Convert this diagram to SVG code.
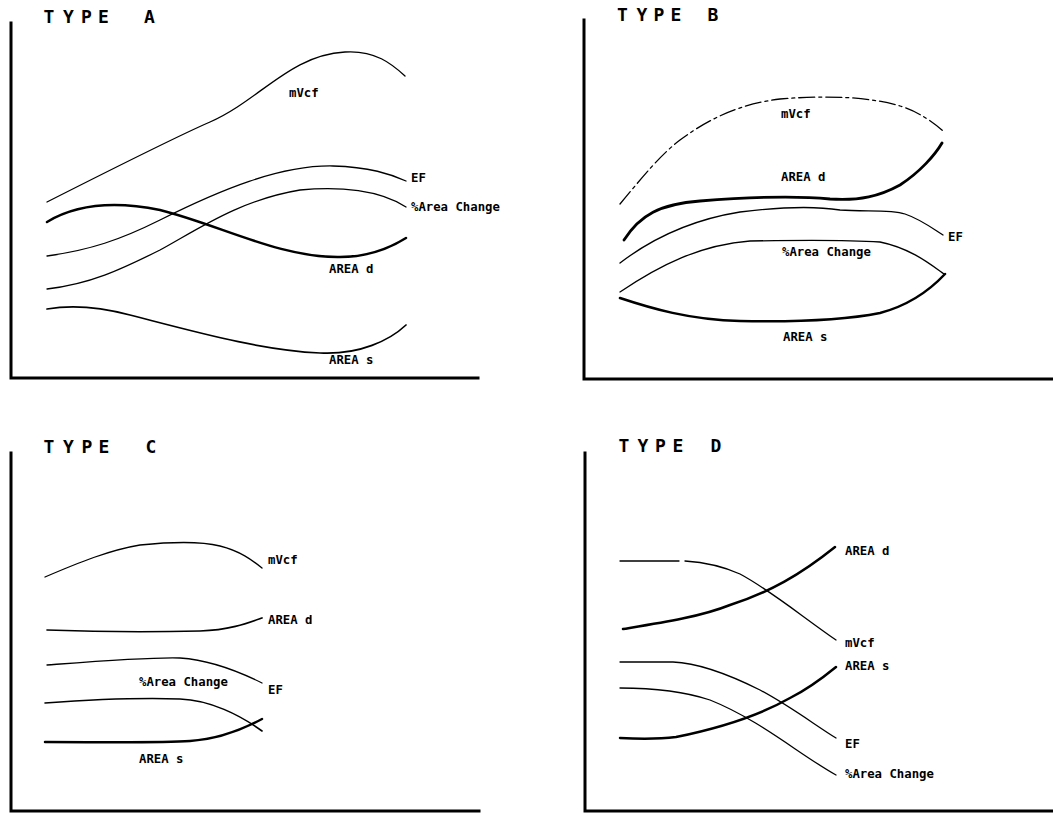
<svg xmlns="http://www.w3.org/2000/svg" width="1053" height="814" viewBox="0 0 1053 814">
<style>
.axis{stroke:#000;stroke-width:3;fill:none;stroke-linecap:square}
.thin{stroke:#000;stroke-width:1.3;fill:none;stroke-linecap:round}
.thick{stroke:#000;stroke-width:2.5;fill:none;stroke-linecap:round}
.dash{stroke-dasharray:16 4 3 4}
.title{font-family:"DejaVu Sans Mono","Liberation Mono",monospace;font-size:18px;font-weight:bold;fill:#000;text-anchor:middle}
.lbl{font-family:"DejaVu Sans Mono","Liberation Mono",monospace;font-size:12.3px;font-weight:bold;fill:#000}
</style>
<rect width="1053" height="814" fill="#fff"/>

<g id="panel-a">
  <text class="title" x="49 68.5 86.5 103.5 149.5" y="23">TYPEA</text>
  <path class="axis" d="M11,23 V378 H478"/>
  <g id="a-mvcf"><path class="thin" d="M47,202 C120,165 180,135 210,122 C260,100 290,55 345,52 C375,50 392,64 405,76"/><text class="lbl" x="289" y="97">mVcf</text></g>
  <g id="a-ef"><path class="thin" d="M47,256 C90,250 120,240 160,220 C220,190 280,165 333,166 C370,167 390,174 406,181"/><text class="lbl" x="411" y="182">EF</text></g>
  <g id="a-area-change"><path class="thin" d="M47,289 C90,284 120,270 160,250 C200,228 240,200 300,190 C340,186 380,190 406,207"/><text class="lbl" x="411" y="211">%Area Change</text></g>
  <g id="a-area-d"><path class="thick" d="M47,222 C80,202 120,202 160,210 C220,225 280,258 340,257 C370,257 390,248 406,238"/><text class="lbl" x="329" y="273">AREA d</text></g>
  <g id="a-area-s"><path class="thin" style="stroke-width:1.7" d="M47,309 C70,305 100,307 130,315 C200,333 260,350 320,353 C360,355 390,340 406,325"/><text class="lbl" x="329" y="364">AREA s</text></g>
</g>

<g id="panel-b">
  <text class="title" x="622.5 642 659 676 713" y="21">TYPEB</text>
  <path class="axis" d="M584,20 V379 H1053"/>
  <g id="b-mvcf"><path class="thin dash" d="M620,204 C640,180 660,155 680,140 C710,118 740,104 780,99 C830,95 870,97 900,106 C920,112 935,124 943,131"/><text class="lbl" x="781" y="118">mVcf</text></g>
  <g id="b-area-d"><path class="thick" style="stroke-width:2.8" d="M624,240 C640,215 660,204 700,201 C750,197 800,196 830,199 C860,201 880,196 900,185 C920,172 935,155 942,143"/><text class="lbl" x="781" y="181">AREA d</text></g>
  <g id="b-ef"><path class="thin" d="M620,263 C650,240 690,220 740,212 C780,207 815,206 840,210 C865,212 890,209 905,214 C920,219 932,228 943,235"/><text class="lbl" x="948" y="241">EF</text></g>
  <g id="b-area-change"><path class="thin" d="M620,292 C660,265 700,245 750,241 C800,240 850,240 880,242 C910,248 930,264 944,274"/><text class="lbl" x="782" y="256">%Area Change</text></g>
  <g id="b-area-s"><path class="thick" d="M620,298 C650,308 690,320 740,321 C790,322 840,321 880,313 C910,305 930,290 945,274"/><text class="lbl" x="783" y="341">AREA s</text></g>
</g>

<g id="panel-c">
  <text class="title" x="49 68.5 87 104 151" y="453">TYPEC</text>
  <path class="axis" d="M11,453 V811 H479"/>
  <g id="c-mvcf"><path class="thin" d="M45,577 C80,562 110,550 140,545 C170,542 200,541 220,546 C240,551 252,560 262,568"/><text class="lbl" x="268" y="564">mVcf</text></g>
  <g id="c-area-d"><path class="thin" style="stroke-width:1.7" d="M47,630 C100,632 160,632 200,631 C230,630 248,623 262,618"/><text class="lbl" x="268" y="624">AREA d</text></g>
  <g id="c-ef"><path class="thin" d="M47,665 C100,661 150,657 180,658 C210,660 240,672 262,683"/><text class="lbl" x="268" y="694">EF</text></g>
  <g id="c-area-change"><path class="thin" style="stroke-width:1.6" d="M45,703 C100,699 150,698 180,699 C210,700 240,715 262,731"/><text class="lbl" x="139" y="686">%Area Change</text></g>
  <g id="c-area-s"><path class="thick" d="M45,742 C100,742 160,743 190,741 C220,739 245,728 262,719"/><text class="lbl" x="139" y="763">AREA s</text></g>
</g>

<g id="panel-d">
  <text class="title" x="624 643 660.5 678 716" y="452">TYPED</text>
  <path class="axis" d="M585,453 V811 H1053"/>
  <g id="d-mvcf"><path class="thin" d="M620,561 L679,561 M685,561 C700,562 720,565 740,574 C770,590 800,615 836,640"/><text class="lbl" x="845" y="647">mVcf</text></g>
  <g id="d-area-d"><path class="thick" d="M623,629 C660,623 700,617 730,605 C770,592 800,575 835,547"/><text class="lbl" x="845" y="555">AREA d</text></g>
  <g id="d-ef"><path class="thin" d="M620,662 L673,662 C700,663 730,675 760,690 C790,706 815,725 836,738"/><text class="lbl" x="845" y="748">EF</text></g>
  <g id="d-area-change"><path class="thin" d="M620,688 C650,688 680,690 710,700 C760,720 800,755 836,775"/><text class="lbl" x="845" y="778">%Area Change</text></g>
  <g id="d-area-s"><path class="thick" d="M620,738 C640,739 660,739 676,737 C720,728 760,715 790,698 C810,688 825,676 836,667"/><text class="lbl" x="845" y="670">AREA s</text></g>
</g>
</svg>
